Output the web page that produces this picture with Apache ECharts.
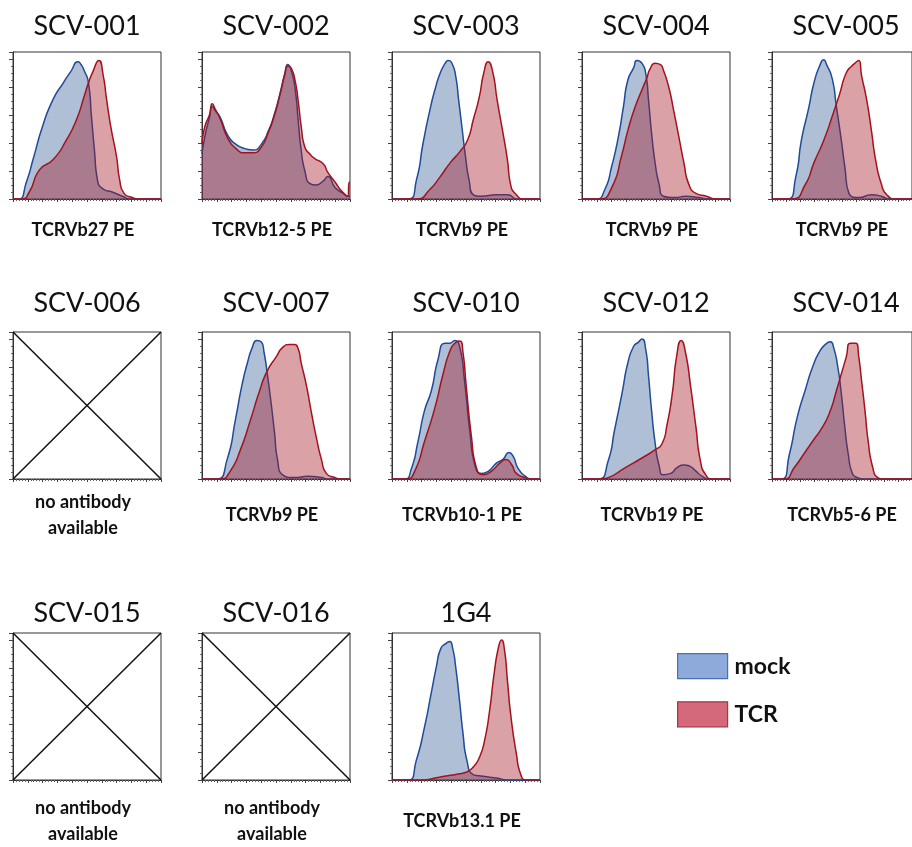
<!DOCTYPE html>
<html>
<head>
<meta charset="utf-8">
<script src="https://cdn.jsdelivr.net/npm/echarts@6/dist/echarts.min.js"></script>
<style>
  html, body { margin: 0; padding: 0; background: #fff; }
  #chart { width: 912px; height: 847px; }
</style>
</head>
<body>
<div id="chart"></div>
<script>
// panel names and x-axis captions
const titles = ["SCV-001", "SCV-002", "SCV-003", "SCV-004", "SCV-005",
  "SCV-006", "SCV-007", "SCV-010", "SCV-012", "SCV-014",
  "SCV-015", "SCV-016", "1G4"];
const captions = ["TCRVb27 PE", "TCRVb12-5 PE", "TCRVb9 PE", "TCRVb9 PE", "TCRVb9 PE",
  "no antibody\navailable", "TCRVb9 PE", "TCRVb10-1 PE", "TCRVb19 PE", "TCRVb5-6 PE",
  "no antibody\navailable", "no antibody\navailable", "TCRVb13.1 PE"];

// histograms: [channel (0-100), % of max]
const mock001 = [[0,0],[4,0],[9,12],[14,30],[20,52],[27,71],[34,83],[39,91],[44,98],[46,96],[48,92],[51,83],[53,59],[55,35],[57,14],[61,7],[67,5],[74,2],[79,0],[100,0]];
const tcr001 = [[0,0],[6,0],[11,5],[18,21],[27,28],[36,42],[43,57],[48,73],[51,83],[54,91],[58,99],[61,88],[63,73],[66,52],[70,30],[72,14],[75,4],[81,1],[85,0],[100,0]];

const mock002 = [[0,32],[2,45],[5,58],[7,66],[9,63],[12,59],[17.6,45],[23,39],[29,36],[34.5,35],[40,39],[45,49],[49,61],[52.6,75],[56,90],[58,96],[60.5,91],[63,78],[65,56],[67,35],[69.5,20],[73,11],[77,10],[82,13],[85,16],[90,8],[95.5,4],[98.4,2],[100,2]];
const tcr002 = [[0,40],[2,52],[5,60],[7,68],[9,64],[12,58],[17.6,43],[23,36],[29,33],[34.5,33],[40,37],[45,48],[49,60],[52.6,74],[56,89],[58,95],[60.5,93],[63,84],[65,70],[67,52],[69.5,37],[73,32],[76,29],[82,25],[85,19],[90,12],[94,6],[98.4,2],[99.5,12],[100,12]];

const mock003 = [[0,0],[11,0],[16.6,14],[21,40],[25.7,64],[29,78],[32.6,90],[36,97],[38,99],[40.5,97],[43,88],[45,71],[47.4,50],[49.7,30],[52,14],[55,3],[60,2],[71,3],[78,3],[85,0],[100,0]];
const tcr003 = [[0,0],[16.6,0],[25.7,7],[32.6,16],[39.4,26],[46,34],[51,42],[55,57],[59,73],[62,90],[65,98],[68,91],[71,71],[75,47],[78,28],[80,11],[84,3],[89.5,0],[100,0]];

const mock004 = [[0,0],[9.8,0],[15.5,7],[20,23],[24.5,44],[28,66],[31,85],[35,94],[37,99],[40.5,97],[43,90],[45,70],[47,47],[49.5,25],[52,11],[55,2],[63,1],[70,2],[79,1],[86,0],[100,0]];
const tcr004 = [[0,0],[12,0],[20,8],[27,32],[31,49],[36,66],[40.5,78],[44,87],[46,93],[49.5,97],[53,96],[55,92],[58.6,80],[62,63],[65.5,44],[69,25],[72,11],[77,4],[84,2],[90.5,0],[100,0]];

const mock005 = [[0,0],[11,0],[17,16],[21,42],[26,64],[30,83],[34,95],[37,99.5],[39,96],[43,86],[46,66],[49.5,42],[52,23],[55,4],[62,1],[71,3],[78,2],[84,0],[100,0]];
const tcr005 = [[0,0],[14.6,0],[23.6,10],[30,26],[37,42],[44,62],[48,74],[53,90],[57,95],[62,99],[64,88],[67.6,71],[71,49],[74,28],[78,11],[82,3],[89,0],[100,0]];

const mock007 = [[0,0],[10,0],[17,14],[22.7,43],[27,67],[30.7,83],[34,94],[37,99],[40,98],[42,90],[44,76],[46.6,55],[49,33],[51,14],[54.5,3],[62.5,1],[71.6,2],[80.7,1],[85,0],[100,0]];
const tcr007 = [[0,0],[12.5,0],[19,5.5],[26,21],[33,43],[38.6,62],[44,77],[50,87],[54.5,94],[59,96],[62.5,96],[65,93],[67,83],[70.5,67],[74,47],[77,31],[80.7,14],[84,4],[90,1],[94,0],[100,0]];

const mock010 = [[0,0],[8.6,0],[13,7],[17.6,27],[22,49],[26.6,63],[31,85],[35.7,97],[39,97],[42.4,99],[45.8,94],[49,70],[52.6,34],[56,10],[60.5,4],[65,5.5],[70.7,11.5],[75,14],[79,19],[82,16],[85,8],[90,2],[94.4,0],[100,0]];
const tcr010 = [[0,0],[9.7,0],[15.3,5.5],[22,27],[29,51],[34.5,75],[39,91],[42.4,97],[45.8,98.5],[48,90],[50,68],[53.7,30],[57,8],[61.6,3],[67,5.5],[73,11.5],[77,14],[81,10],[84,4],[90,1],[94.4,0],[100,0]];

const mock012 = [[0,0],[11,0],[17.7,13],[22,35],[27,61],[31,83],[35,95],[38,97.6],[40.5,100],[43,93],[45,73],[47,49],[49.5,25],[52,10],[55,3],[60,4],[64,8],[69,10],[73,9],[77,5.6],[81,2],[86,0],[100,0]];
const tcr012 = [[0,0],[13,0],[17.7,1],[29,8],[40.5,15],[49.5,21],[54,25],[57.5,39],[61,61],[64,88],[67,99],[70,90],[73.4,66],[77,37],[80,13],[83.6,3],[88,0],[100,0]];

const mock014 = [[0,0],[6.8,0],[12.4,17.5],[18,44],[23.6,63],[29,80],[34,91],[38,96],[41.7,98],[44,94],[47,80],[49.5,61],[52,37],[54.5,17.5],[57.4,4],[61,1],[65,0],[100,0]];
const tcr014 = [[0,0],[9,0],[15.8,8],[22.5,17.5],[29,27],[36,37],[41.7,49],[46,63],[49.5,75],[53,87],[56,97],[60,97],[62,87],[64,70],[66.4,49],[68.7,27],[72,8],[75.5,1],[79,0],[100,0]];

const mock1G4 = [[0,0],[10.8,0],[16.4,14],[22,38],[26.5,62],[30,81],[33,94],[36.6,97.6],[39,99],[41,94],[43,81],[45.6,57],[48,33],[50.6,14],[54.6,4],[59,3],[66,2],[72.6,1],[77,0],[100,0]];
const tcr1G4 = [[0,0],[18.6,0],[32,2],[43,4],[50,5.5],[54.6,9],[59,16],[62.5,28],[66,50],[69,76],[72,95],[74,100],[76,93],[78,71],[80.4,45],[84,19],[87,4],[90.6,0],[100,0]];

// corner-to-corner cross for panels without antibody
const crossA = [[0,0],[100,105]];
const crossB = [[0,105],[100,0]];

const histData = [
  [mock001, tcr001], [mock002, tcr002], [mock003, tcr003], [mock004, tcr004], [mock005, tcr005],
  null, [mock007, tcr007], [mock010, tcr010], [mock012, tcr012], [mock014, tcr014],
  null, null, [mock1G4, tcr1G4]
];

// layout
const colLeft = [13, 202, 392, 582, 772];
const rowTop = [52, 332, 633];
const titleY = [26, 303, 613];
const captionY = [230, 515, 821];
const boxW = 148, boxH = 147;
const font = "Lato, 'Open Sans', sans-serif";

const chart = echarts.init(document.getElementById("chart"));

const grids = [], xAxes = [], yAxes = [], series = [], graphics = [];

titles.forEach(function (name, i) {
  const col = i % 5, row = Math.floor(i / 5);
  const left = colLeft[col], top = rowTop[row];
  grids.push({
    left: left, top: top, width: boxW, height: boxH,
    show: true, borderColor: "#333", borderWidth: 1, backgroundColor: "transparent"
  });
  xAxes.push({
    type: "value", gridIndex: i, min: 0, max: 100, interval: 10,
    axisLine: { show: true, lineStyle: { color: "#333", width: 1 } },
    axisTick: { show: true, length: 3, lineStyle: { color: "#444" } },
    minorTick: { show: true, splitNumber: 5, length: 2, lineStyle: { color: "#666" } },
    axisLabel: { show: false }, splitLine: { show: false }
  });
  yAxes.push({
    type: "value", gridIndex: i, min: 0, max: 105, interval: 20,
    axisLine: { show: true, lineStyle: { color: "#333", width: 1 } },
    axisTick: { show: true, length: 4, lineStyle: { color: "#444" } },
    minorTick: { show: true, splitNumber: 4, length: 2, lineStyle: { color: "#666" } },
    axisLabel: { show: false }, splitLine: { show: false }
  });

  const pair = histData[i];
  if (pair) {
    series.push({
      name: "mock", type: "line", xAxisIndex: i, yAxisIndex: i,
      data: pair[0], smooth: 0.6, symbol: "none",
      lineStyle: { color: "#1f4b98", width: 1.5 },
      itemStyle: { color: "#8eaadb" },
      areaStyle: { color: "rgba(48,88,148,0.55)", origin: "start" },
      z: 2
    });
    series.push({
      name: "TCR", type: "line", xAxisIndex: i, yAxisIndex: i,
      data: pair[1], smooth: 0.6, symbol: "none",
      lineStyle: { color: "#a3121d", width: 1.5 },
      itemStyle: { color: "#d2697a" },
      areaStyle: { color: "rgba(165,25,38,0.58)", origin: "start" },
      z: 3
    });
  } else {
    [crossA, crossB].forEach(function (d) {
      series.push({
        type: "line", xAxisIndex: i, yAxisIndex: i, data: d,
        symbol: "none", silent: true,
        lineStyle: { color: "#111", width: 1.5 }
      });
    });
  }

  const cx = left + boxW / 2;
  graphics.push({
    type: "text", x: cx, y: titleY[row],
    style: { text: name, font: "27px " + font, fill: "#111", align: "center", verticalAlign: "middle" }
  });
  graphics.push({
    type: "text", x: cx - 4, y: captionY[row],
    style: {
      text: captions[i], font: "bold 18px " + font, fill: "#111",
      align: "center", verticalAlign: "middle", lineHeight: 26
    }
  });
});

chart.setOption({
  backgroundColor: "#ffffff",
  animation: false,
  grid: grids,
  xAxis: xAxes,
  yAxis: yAxes,
  series: series,
  legend: {
    orient: "vertical", left: 672, top: 648,
    itemWidth: 50, itemHeight: 25, itemGap: 22,
    textStyle: { fontFamily: font, fontWeight: "bold", fontSize: 23, color: "#111", padding: [0, 0, 0, 2] },
    data: [
      { name: "mock", icon: "rect", itemStyle: { color: "#8eaadb", borderColor: "#4a6fae", borderWidth: 1.2 } },
      { name: "TCR", icon: "rect", itemStyle: { color: "#d3697a", borderColor: "#a83446", borderWidth: 1.2 } }
    ]
  },
  graphic: graphics
});
</script>
</body>
</html>
